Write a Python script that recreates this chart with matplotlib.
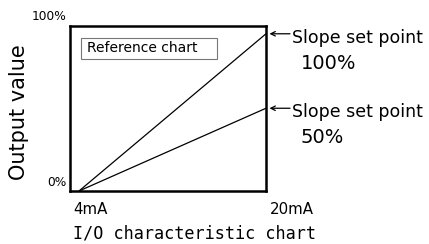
import matplotlib
matplotlib.use("Agg")
import matplotlib.pyplot as plt
from matplotlib.patches import Rectangle

# ---- data ----
input_ma = [4, 20]                 # input current (mA)
output_slope100 = [0, 95]          # output (%) for slope set point 100%
output_slope50 = [0, 50]           # output (%) for slope set point 50%
x_tick_labels = ["4mA", "20mA"]
y_tick_labels = ["0%", "100%"]
series_labels = ["100%", "50%"]
annotation_text = "Slope set point"

W, H = 429, 244
DPI = 100
fig = plt.figure(figsize=(W / DPI, H / DPI), dpi=DPI)
fig.patch.set_facecolor("white")

def fx(x):
    return x / W

def fy(y):
    return 1 - y / H

SANS = "DejaVu Sans"
MONO = "DejaVu Sans Mono"

# axes box: left 70, right 266, top 25.5, bottom 191 (pixels)
ax = fig.add_axes([fx(70), fy(191), (266 - 70) / W, (191 - 25.5) / H])
ax.set_xlim(3.23, 20)
ax.set_ylim(0, 100)
ax.set_xticks([])
ax.set_yticks([])
for s in ax.spines.values():
    s.set_linewidth(1.8)
    s.set_color("black")

ax.plot(input_ma, output_slope100, color="black", lw=0.9, solid_capstyle="butt")
ax.plot(input_ma, output_slope50, color="black", lw=0.9, solid_capstyle="butt")

# inner "Reference chart" box
ax.add_patch(Rectangle(((81 - 70) / 196, (191 - 59) / 165.5), 136 / 196, 21 / 165.5,
                       transform=ax.transAxes, fill=False, edgecolor="#777777", lw=0.8))
fig.text(fx(87), fy(48.5), "Reference chart", family=SANS, fontsize=10,
         ha="left", va="center")

# annotations with arrows
pt = 0.72  # points per pixel
for yv, lab in [(output_slope100[-1], series_labels[0]), (output_slope50[-1], series_labels[1])]:
    ax.annotate("", xy=(input_ma[-1], yv), xycoords="data",
                xytext=(24 * pt, 0), textcoords="offset points",
                arrowprops=dict(arrowstyle="->", lw=0.9, color="black",
                                shrinkA=0, shrinkB=2.5, mutation_scale=8))
    ax.annotate(annotation_text, xy=(input_ma[-1], yv), xycoords="data",
                xytext=(26 * pt, -9 * pt), textcoords="offset points",
                family=SANS, fontsize=12.5, ha="left", va="baseline", annotation_clip=False)
    ax.annotate(lab, xy=(input_ma[-1], yv), xycoords="data",
                xytext=(35 * pt, -35 * pt), textcoords="offset points",
                family=SANS, fontsize=14, ha="left", va="baseline", annotation_clip=False)

# y tick labels (placed outside corners)
fig.text(fx(66), fy(182.5), y_tick_labels[0], family=SANS, fontsize=8.8, ha="right", va="center")
fig.text(fx(66), fy(16.5), y_tick_labels[1], family=SANS, fontsize=8.8, ha="right", va="center")

# x tick labels
fig.text(fx(73), fy(210), x_tick_labels[0], family=SANS, fontsize=10.8, ha="left", va="center")
fig.text(fx(270), fy(210), x_tick_labels[1], family=SANS, fontsize=10.8, ha="left", va="center")

# axis titles
fig.text(fx(73), fy(233.5), "I/O characteristic chart", family=MONO, fontsize=12.1,
         ha="left", va="center")
fig.text(fx(19), fy(112), "Output value", family=SANS, fontsize=15, rotation=90,
         ha="center", va="center")

fig.savefig("out.png", dpi=DPI, facecolor="white")
